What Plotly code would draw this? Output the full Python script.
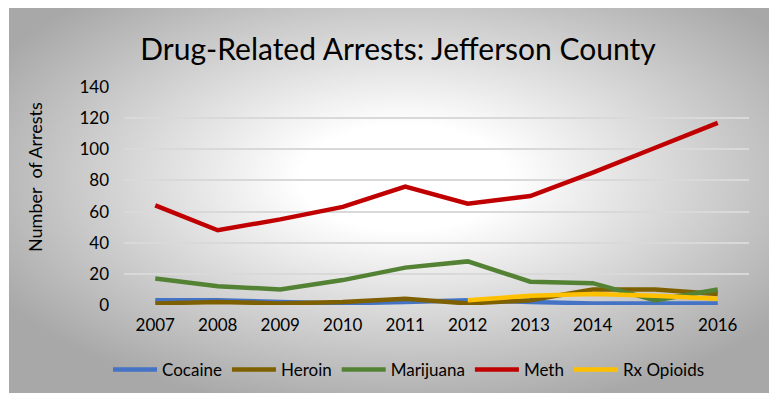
import base64
import plotly.graph_objects as go

# Annual drug-related arrests, Jefferson County
years = ["2007", "2008", "2009", "2010", "2011", "2012", "2013", "2014", "2015", "2016"]
cocaine = [3, 3, 2, 1, 2, 3, 2, 1, 1, 1]
heroin = [1, 2, 1, 2, 4, 1, 3, 10, 10, 7]
marijuana = [17, 12, 10, 16, 24, 28, 15, 14, 3, 10]
meth = [64, 48, 55, 63, 76, 65, 70, 85, 101, 117]
rx_opioids = [None, None, None, None, None, 3, 6, 7, 6, 4]

series_names = ["Cocaine", "Heroin", "Marijuana", "Meth", "Rx Opioids"]
series_values = [cocaine, heroin, marijuana, meth, rx_opioids]
series_colors = ["#4472C4", "#7F6000", "#548235", "#C00000", "#FFC000"]

y_ticks = [0, 20, 40, 60, 80, 100, 120, 140]

FONT = "Lato"
W, H = 773, 393
L, R, T, B = 124, 24, 87, 88
PW, PH = W - L - R, H - T - B

fig = go.Figure()
for name, vals, col in zip(series_names, series_values, series_colors):
    fig.add_trace(go.Scatter(
        x=years, y=vals, name=name, mode="lines",
        line=dict(color=col, width=4.5),
        connectgaps=False,
    ))

# radial grey-to-white chart background
svg = (
    '<svg xmlns="http://www.w3.org/2000/svg" width="760" height="385" '
    'preserveAspectRatio="none" viewBox="0 0 760 385">'
    '<defs><radialGradient id="g" cx="0.52" cy="0.44" r="0.62">'
    '<stop offset="0" stop-color="#ffffff"/>'
    '<stop offset="0.22" stop-color="#ffffff"/>'
    '<stop offset="1" stop-color="#a8a8a8"/>'
    '</radialGradient></defs>'
    '<rect width="760" height="385" fill="url(#g)"/></svg>'
)
src = "data:image/svg+xml;base64," + base64.b64encode(svg.encode()).decode()


def px_x(px):
    return (px - L) / PW


def px_y(py):
    return (H - B - py) / PH


fig.add_layout_image(dict(
    source=src, xref="paper", yref="paper",
    x=px_x(9), y=px_y(8),
    sizex=px_x(769) - px_x(9), sizey=px_y(8) - px_y(393),
    xanchor="left", yanchor="top", sizing="stretch", layer="below",
))

fig.add_annotation(
    text="Number  of Arrests", textangle=-90, showarrow=False,
    xref="paper", yref="paper", x=px_x(35), y=px_y(177),
    xanchor="center", yanchor="middle",
    font=dict(family=FONT, size=18, color="#000000"),
)

fig.update_layout(
    width=W, height=H,
    margin=dict(l=L, r=R, t=T, b=B, autoexpand=False),
    paper_bgcolor="#ffffff",
    plot_bgcolor="rgba(0,0,0,0)",
    title=dict(
        text="Drug-Related Arrests: Jefferson County",
        x=398 / W, xanchor="center",
        y=1 - 49 / H, yanchor="middle",
        font=dict(family=FONT, size=30, color="#000000"),
    ),
    font=dict(family=FONT, size=17, color="#000000"),
    xaxis=dict(
        type="category", showgrid=False, showline=False, zeroline=False,
        ticks="", tickfont=dict(family=FONT, size=17, color="#000000"),
        range=[-0.5, len(years) - 0.5], ticklabelstandoff=8,
    ),
    yaxis=dict(
        range=[0, 140], tickvals=y_ticks, showgrid=True,
        gridcolor="#d9d9d9", gridwidth=1.5, zeroline=False, showline=False,
        ticks="", tickfont=dict(family=FONT, size=17, color="#000000"),
        ticklabelstandoff=14,
    ),
    legend=dict(
        orientation="h", x=px_x(409), y=px_y(370),
        xanchor="center", yanchor="middle",
        bgcolor="rgba(0,0,0,0)", font=dict(family=FONT, size=17, color="#000000"),
        itemwidth=44, tracegroupgap=0,
    ),
)

fig.write_html("out.html")
